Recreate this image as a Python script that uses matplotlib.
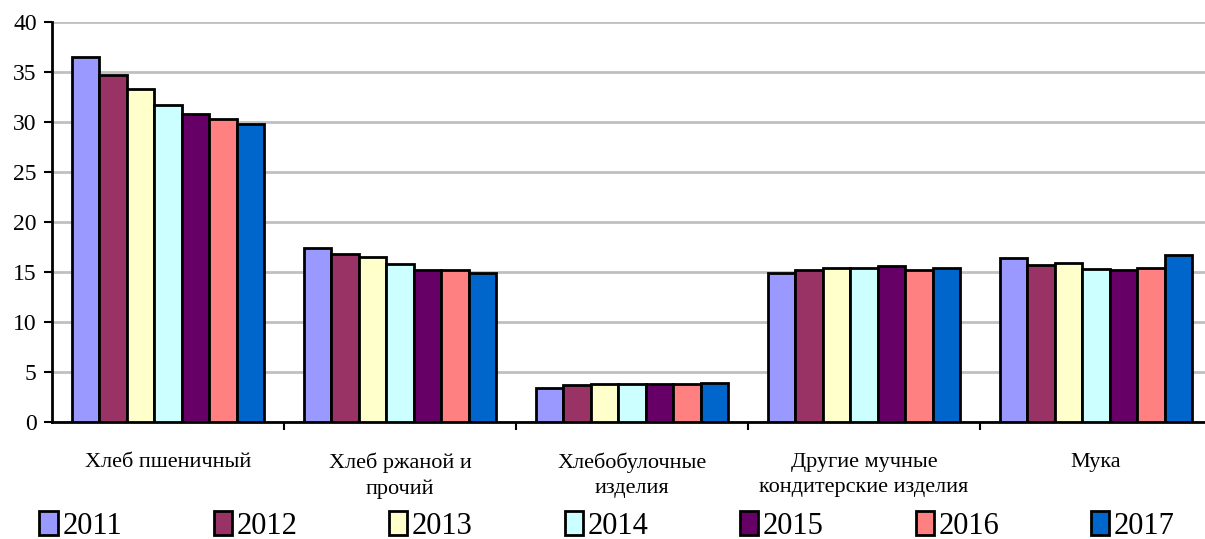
import matplotlib
matplotlib.use("Agg")
import matplotlib.pyplot as plt
import numpy as np
from matplotlib.patches import Patch

categories = ["Хлеб пшеничный", "Хлеб ржаной и\nпрочий", "Хлебобулочные\nизделия",
              "Другие мучные\nкондитерские изделия", "Мука"]
years = ["2011", "2012", "2013", "2014", "2015", "2016", "2017"]
values = {
    "2011": [36.5, 17.4, 3.4, 14.9, 16.4],
    "2012": [34.7, 16.8, 3.7, 15.2, 15.7],
    "2013": [33.3, 16.5, 3.8, 15.4, 15.9],
    "2014": [31.7, 15.8, 3.8, 15.4, 15.3],
    "2015": [30.8, 15.2, 3.85, 15.6, 15.2],
    "2016": [30.3, 15.2, 3.85, 15.2, 15.4],
    "2017": [29.8, 14.9, 3.95, 15.4, 16.7],
}
colors = ["#9999FF", "#993366", "#FFFFCC", "#CCFFFF", "#660066", "#FF8080", "#0066CC"]
yticks = [0, 5, 10, 15, 20, 25, 30, 35, 40]

plt.rcParams['font.family'] = ['Liberation Serif', 'DejaVu Serif']

W, H = 1205, 539
fig = plt.figure(figsize=(W / 100, H / 100), dpi=100)
ax = fig.add_axes([52 / W, (H - 422) / H, 1160 / W, 400 / H])

n = len(years)
group_w = 0.828
bw = group_w / n
x = np.arange(len(categories))
for i, (yr, c) in enumerate(zip(years, colors)):
    pos = x - group_w / 2 + bw * (i + 0.5)
    ax.bar(pos, values[yr], width=bw, color=c, edgecolor="black", linewidth=2,
           zorder=3, label=yr)

ax.set_xlim(-0.5, len(categories) - 0.5)
ax.set_ylim(0, 40)
ax.set_yticks(yticks)
ax.set_yticklabels([str(v) for v in yticks], fontsize=17)
ax.yaxis.grid(True, color="#c0c0c0", linewidth=2, zorder=0)
ax.set_axisbelow(True)

ax.set_xticks(x)
ax.set_xticklabels(categories, fontsize=16, linespacing=1.45)
ax.set_xticks(np.arange(0.5, len(categories) - 0.5, 1), minor=True)
ax.tick_params(axis="x", which="major", length=0, pad=22)
ax.tick_params(axis="x", which="minor", length=6, width=1.5, color="black")
ax.tick_params(axis="y", length=6, width=1.5, pad=5)

for s in ["top", "right"]:
    ax.spines[s].set_visible(False)
for s in ["left", "bottom"]:
    ax.spines[s].set_linewidth(2)
    ax.spines[s].set_color("black")

handles = [Patch(facecolor=c, edgecolor="black", linewidth=2) for c in colors]
leg = fig.legend(handles, years, loc="center", bbox_to_anchor=(607 / W, 13 / H),
                 ncol=7, frameon=False, fontsize=22, handlelength=0.6,
                 handleheight=0.85, handletextpad=0.15, columnspacing=3.0,
                 borderpad=0, borderaxespad=0)

fig.savefig("out.png", dpi=100)
